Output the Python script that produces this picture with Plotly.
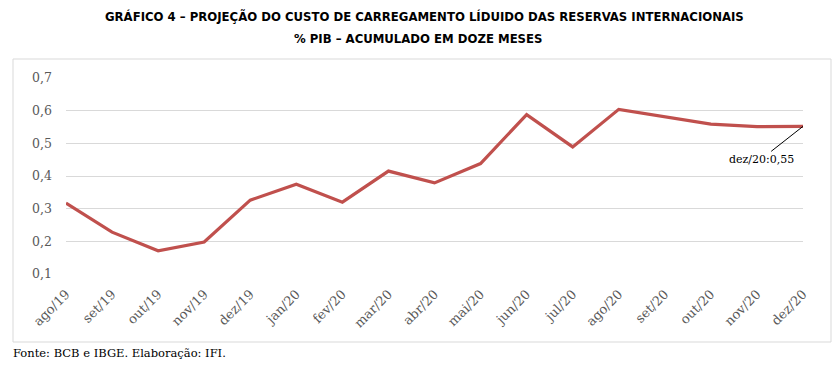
import plotly.graph_objects as go

categories = ["ago/19", "set/19", "out/19", "nov/19", "dez/19", "jan/20", "fev/20", "mar/20",
              "abr/20", "mai/20", "jun/20", "jul/20", "ago/20", "set/20", "out/20", "nov/20", "dez/20"]
values = [0.317, 0.228, 0.171, 0.198, 0.326, 0.375, 0.320, 0.415,
          0.379, 0.438, 0.588, 0.489, 0.604, 0.582, 0.559, 0.551, 0.552]
y_ticks = [0.1, 0.2, 0.3, 0.4, 0.5, 0.6, 0.7]

title1 = "GRÁFICO 4 – PROJEÇÃO DO CUSTO DE CARREGAMENTO LÍDUIDO DAS RESERVAS INTERNACIONAIS"
title2 = "% PIB – ACUMULADO EM DOZE MESES"
footer = "Fonte: BCB e IBGE. Elaboração: IFI."
label_text = "dez/20:0,55"

W, H = 835, 368
L, R, T, B = 66, 32, 78, 94
pw, ph = W - L - R, H - T - B

def px(xp):
    return (xp - L) / pw

def py(yp):
    return (H - B - yp) / ph

xs = list(range(len(categories)))

fig = go.Figure()
fig.add_trace(go.Scatter(x=xs, y=values, mode="lines",
                         line=dict(color="#C0504D", width=3.2), hoverinfo="skip"))

title_font = dict(family="Liberation Sans Narrow, Arial Narrow, DejaVu Sans Condensed, sans-serif",
                  size=13, color="#000000")
serif = "DejaVu Serif, serif"

fig.update_layout(
    width=W, height=H,
    margin=dict(l=L, r=R, t=T, b=B),
    paper_bgcolor="white", plot_bgcolor="white",
    showlegend=False,
    separators=",.",
    hovermode=False,
    xaxis=dict(range=[0, len(categories) - 1], tickmode="array", tickvals=xs, ticktext=categories,
               tickangle=-45, showgrid=False, showline=False, zeroline=False, ticks="",
               ticklabelstandoff=9, automargin=False,
               tickfont=dict(family=serif, size=13, color="#595959")),
    yaxis=dict(range=[0.1, 0.7], tickmode="array", tickvals=y_ticks,
               ticktext=[f"{v:.1f}".replace(".", ",") for v in y_ticks],
               showgrid=True, gridcolor="#D9D9D9", gridwidth=1, zeroline=False, showline=False,
               ticks="", ticklabelstandoff=13, automargin=False,
               tickfont=dict(family=serif, size=12.5, color="#595959")),
    shapes=[dict(type="rect", xref="paper", yref="paper",
                 x0=px(13), x1=px(831), y0=py(342), y1=py(59),
                 line=dict(color="#D9D9D9", width=1), fillcolor="rgba(0,0,0,0)", layer="below")],
    annotations=[
        dict(text="<b>" + title1 + "</b>", xref="paper", yref="paper", x=px(424), y=py(17),
             xanchor="center", yanchor="middle", showarrow=False, font=title_font),
        dict(text="<b>" + title2 + "</b>", xref="paper", yref="paper", x=px(418), y=py(38),
             xanchor="center", yanchor="middle", showarrow=False, font=title_font),
        dict(text=footer, xref="paper", yref="paper", x=px(11), y=py(353),
             xanchor="left", yanchor="middle", showarrow=False,
             font=dict(family=serif, size=11.5, color="#000000")),
        dict(text=label_text, x=xs[-1], y=values[-1], xref="x", yref="y",
             ax=-42, ay=33, showarrow=True, arrowhead=0, arrowwidth=1, arrowcolor="#000000",
             font=dict(family=serif, size=11, color="#000000")),
    ],
)

fig.write_html("out.html", config={"displayModeBar": False},
               post_script="document.body.style.margin='0';document.body.style.padding='0';")
